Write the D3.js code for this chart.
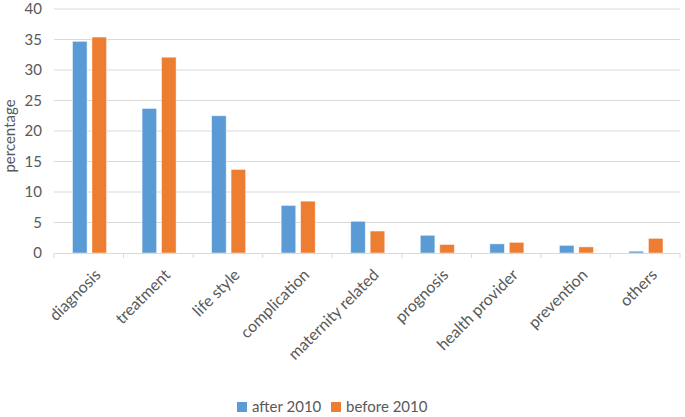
<!DOCTYPE html>
<html>
<head>
<meta charset="utf-8">
<script src="https://cdn.jsdelivr.net/npm/d3@7"></script>
<style>
  body { margin: 0; background: #fff; }
  text { font-family: Lato, "Open Sans", sans-serif; fill: #595959; }
</style>
</head>
<body>
<div id="chart-area"></div>
<script>
// data
let categories = ["diagnosis", "treatment", "life style", "complication", "maternity related",
                  "prognosis", "health provider", "prevention", "others"];
let after2010  = [34.7, 23.7, 22.5, 7.8, 5.2, 2.9, 1.5, 1.25, 0.3];
let before2010 = [35.4, 32.1, 13.7, 8.5, 3.6, 1.4, 1.75, 1.0, 2.4];
let seriesNames = ["after 2010", "before 2010"];
let yTicks = [0, 5, 10, 15, 20, 25, 30, 35, 40];
let colors = ["#5B9BD5", "#ED7D31"];

let W = 685, H = 417;
let m = {top: 9, right: 5, bottom: 164, left: 54};
let w = W - m.left - m.right;
let h = H - m.top - m.bottom;

let svg = d3.select("#chart-area")
    .append("svg")
    .attr("width", W)
    .attr("height", H);

let g = svg.append("g")
    .attr("transform", "translate(" + m.left + "," + m.top + ")");

// scales
let x = d3.scaleBand()
    .domain(categories)
    .range([0, w]);

let x1 = d3.scaleBand()
    .domain(seriesNames)
    .range([18.5, x.bandwidth() - 17])
    .paddingInner(0.25);

let y = d3.scaleLinear()
    .domain([0, 40])
    .range([h, 0]);

// gridlines
g.selectAll(".grid")
    .data(yTicks.slice(1))
    .enter()
    .append("line")
      .attr("x1", 0)
      .attr("x2", w)
      .attr("y1", d => y(d))
      .attr("y2", d => y(d))
      .attr("stroke", "#d9d9d9")
      .attr("stroke-width", 1);

// y tick labels
let yAxisCall = d3.axisLeft(y).tickValues(yTicks).tickSize(0).tickPadding(12);
let yAx = g.append("g").call(yAxisCall);
yAx.select(".domain").remove();
yAx.selectAll("text")
    .attr("font-size", "15px")
    .attr("fill", "#595959")
    .style("font-family", "Lato, 'Open Sans', sans-serif");

// bars
let rows = categories.map((c, i) => ({cat: c, vals: [after2010[i], before2010[i]]}));
let groups = g.selectAll(".grp")
    .data(rows)
    .enter()
    .append("g")
      .attr("transform", d => "translate(" + x(d.cat) + ",0)");

groups.selectAll("rect")
    .data(d => d.vals.map((v, j) => ({s: seriesNames[j], v: v, j: j})))
    .enter()
    .append("rect")
      .attr("x", d => x1(d.s))
      .attr("y", d => y(d.v))
      .attr("width", x1.bandwidth())
      .attr("height", d => h - y(d.v))
      .attr("fill", d => colors[d.j])
      .attr("stroke", "#ffffff")
      .attr("stroke-opacity", 0.6)
      .attr("stroke-width", 0.8);

// x axis
let xAxisCall = d3.axisBottom(x).tickSize(0).tickFormat("");
let xAx = g.append("g")
    .attr("transform", "translate(0," + h + ")")
    .call(xAxisCall);
xAx.select(".domain").attr("stroke", "#d9d9d9");

// tick marks between categories
g.selectAll(".tk")
    .data(d3.range(categories.length + 1))
    .enter()
    .append("line")
      .attr("x1", i => i * x.step())
      .attr("x2", i => i * x.step())
      .attr("y1", h)
      .attr("y2", h + 5)
      .attr("stroke", "#d9d9d9");

// rotated category labels
g.selectAll(".xl")
    .data(categories)
    .enter()
    .append("text")
      .attr("transform", d => "translate(" + (x(d) + x.bandwidth() / 2 + 5) + "," + (h + 15) + ") rotate(-45)")
      .attr("text-anchor", "end")
      .attr("dy", "0.7em")
      .attr("font-size", "16px")
      .text(d => d);

// y label
svg.append("text")
    .attr("transform", "translate(15," + (m.top + h / 2 + 5) + ") rotate(-90)")
    .attr("text-anchor", "middle")
    .attr("font-size", "15px")
    .text("percentage");

// legend
let legend = svg.append("g").attr("transform", "translate(237,402)");
let lx = [0, 94];
seriesNames.forEach(function(s, i) {
  legend.append("rect")
      .attr("x", lx[i])
      .attr("y", 0)
      .attr("width", 10)
      .attr("height", 10)
      .attr("fill", colors[i]);
  legend.append("text")
      .attr("x", lx[i] + 15)
      .attr("y", 10)
      .attr("font-size", "15px")
      .text(s);
});
</script>
</body>
</html>
